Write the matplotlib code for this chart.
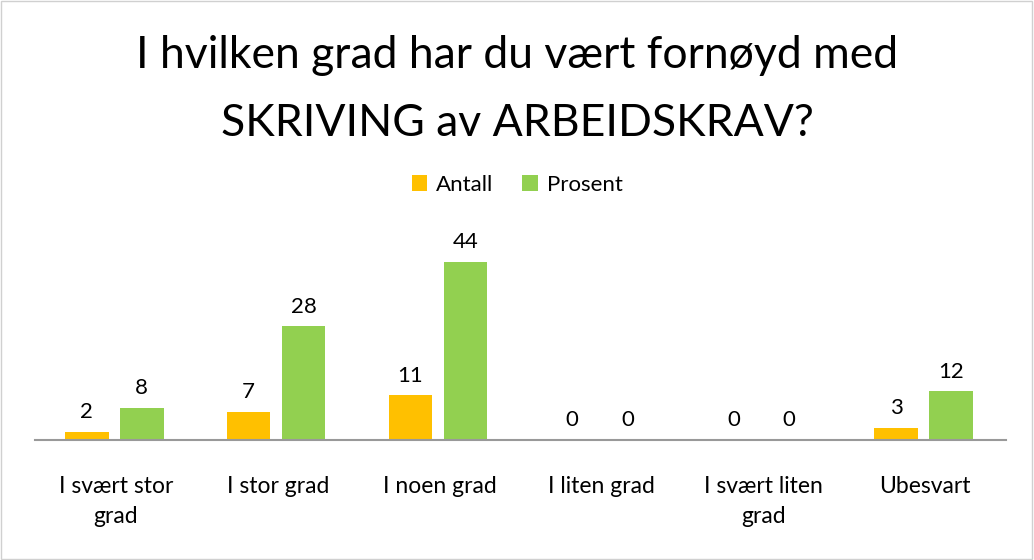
import matplotlib.pyplot as plt
import numpy as np
from matplotlib.patches import Rectangle

categories = ["I svært stor\ngrad", "I stor grad", "I noen grad", "I liten grad",
              "I svært liten\ngrad", "Ubesvart"]
antall = [2, 7, 11, 0, 0, 3]
prosent = [8, 28, 44, 0, 0, 12]

plt.rcParams['font.family'] = ['Lato', 'DejaVu Sans']

fig = plt.figure(figsize=(10.34, 5.6), dpi=100)
ax = fig.add_axes([0.0338, 0.2143, 0.9392, 0.362])

x = np.arange(len(categories))
w = 0.27
off = 0.17
b1 = ax.bar(x - off - 0.01, antall, w, color='#FFC000', label='Antall')
b2 = ax.bar(x + off - 0.01, prosent, w, color='#92D050', label='Prosent')

for bars, vals in ((b1, antall), (b2, prosent)):
    for bar, v in zip(bars, vals):
        ax.annotate(str(v), (bar.get_x() + bar.get_width() / 2, v),
                    xytext=(0, 7), textcoords='offset points',
                    ha='center', va='bottom', fontsize=16, color='black')

ax.set_xlim(-0.5, len(categories) - 0.5)
ax.set_ylim(0, 50)
ax.set_xticks(x)
ax.set_xticklabels(categories, fontsize=16.5, linespacing=1.55)
ax.tick_params(axis='x', length=0, pad=26)
ax.set_yticks([])
for s in ('top', 'right', 'left'):
    ax.spines[s].set_visible(False)
ax.spines['bottom'].set_color('#999999')
ax.spines['bottom'].set_linewidth(1.5)
ax.patch.set_visible(False)

fig.text(0.5, 0.84, "I hvilken grad har du vært fornøyd med\nSKRIVING av ARBEIDSKRAV?",
         ha='center', va='center', fontsize=32, linespacing=1.8)

fig.legend(handles=[b1, b2], loc='center', bbox_to_anchor=(0.5, 0.67), ncol=2,
           frameon=False, fontsize=16, handlelength=0.7, handleheight=0.7,
           handletextpad=0.4, columnspacing=1.3)

fig.patches.append(Rectangle((0.001, 0.002), 0.997, 0.996, transform=fig.transFigure,
                             fill=False, edgecolor='#d0d0d0', linewidth=1))

fig.savefig('out.png', dpi=100)
